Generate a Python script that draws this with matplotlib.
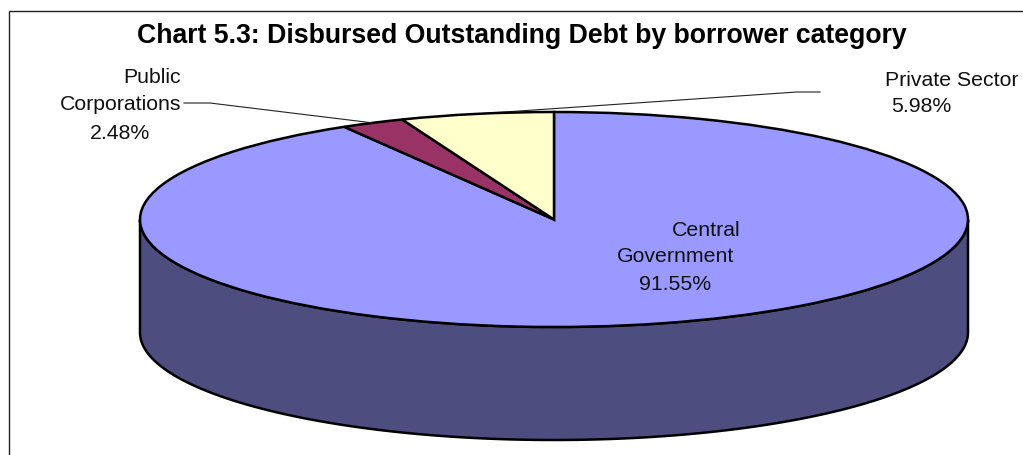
import numpy as np
import matplotlib
matplotlib.use('Agg')
import matplotlib.pyplot as plt
from matplotlib.patches import Polygon, Rectangle

plt.rcParams['font.family'] = ['Liberation Sans', 'DejaVu Sans']

title = 'Chart 5.3: Disbursed Outstanding Debt by borrower category'
categories = ['Central Government', 'Public Corporations', 'Private Sector']
shares = [91.55, 2.48, 5.98]
colors = ['#9999FF', '#993366', '#FFFFCC']
side_color = '#4D4D80'

W, H = 1023, 455
# pie ellipse on the page, in pixels
cx, cy, rx, ry = 554, 219.5, 414, 107.5
depth = 113


def to_data(px, py):
    return (px - cx) / rx, (cy - py) / ry


def label(px, py, text, ha='center'):
    fig.text(px / W, 1 - py / H, text, ha=ha, va='center', fontsize=15.3, color='#111111')


fig = plt.figure(figsize=(W / 100, H / 100), dpi=100, facecolor='white')
ax = fig.add_axes([0, 0, 1, 1])

# outer chart frame, right and bottom run off the picture
fig.add_artist(Rectangle((8.5 / W, -0.1), 1.1, 1.1 - 11.5 / H, transform=fig.transFigure,
                         fill=False, edgecolor='#222222', linewidth=1.0))

# side wall of the 3D pie
t = np.linspace(np.pi, 2 * np.pi, 300)
d = depth / ry
top_edge = np.column_stack([np.cos(t), np.sin(t)])
bottom_edge = np.column_stack([np.cos(t), np.sin(t) - d])
wall = np.vstack([top_edge, bottom_edge[::-1]])
ax.add_patch(Polygon(wall, closed=True, facecolor=side_color, edgecolor='black', linewidth=1.8))

ax.pie(shares, colors=colors, startangle=90, counterclock=False,
       wedgeprops={'edgecolor': 'black', 'linewidth': 1.8})
ax.set_aspect('auto')
ax.set_xlim((0 - cx) / rx, (W - cx) / rx)
ax.set_ylim((cy - H) / ry, cy / ry)
ax.set_axis_off()

# leader lines run to the middle of each small slice
a_pub = np.radians(90 + 360 * (shares[2] + shares[1] / 2) / sum(shares))
a_pri = np.radians(90 + 360 * (shares[2] / 2) / sum(shares))
x0, y0 = to_data(184, 103)
x1, y1 = to_data(210, 103)
ax.plot([x0, x1, np.cos(a_pub)], [y0, y1, np.sin(a_pub)], color='#222222', lw=0.8, zorder=5)
x0, y0 = to_data(820, 92)
x1, y1 = to_data(797, 92)
ax.plot([x0, x1, np.cos(a_pri)], [y0, y1, np.sin(a_pri)], color='#222222', lw=0.8, zorder=0.5)

fig.text(521.5 / W, 1 - 36 / H, title, ha='center', va='center', fontsize=19.15, fontweight='bold')

label(152, 77, 'Public')
label(121, 104, 'Corporations')
label(120, 133, '2.48%')
label(952, 80, 'Private Sector')
label(921, 107, '5.98%')
label(706, 231, 'Central')
label(676, 257, 'Government')
label(675, 284, '91.55%')

fig.savefig('out.png', dpi=100)
